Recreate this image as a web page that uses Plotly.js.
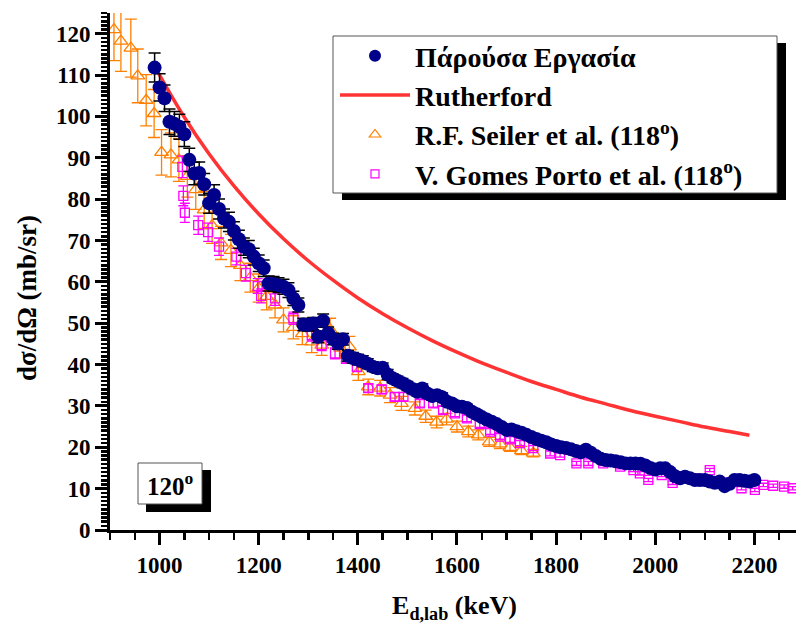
<!DOCTYPE html>
<html>
<head>
<meta charset="utf-8">
<script src="https://cdn.plot.ly/plotly-3.0.1.min.js"></script>
<style>
html,body{margin:0;padding:0;overflow:hidden;background:#fff;}
#chart{width:810px;height:627px;}
</style>
</head>
<body>
<div id="chart"></div>
<script>
// ---- Present work (Παρούσα Εργασία) ----
var presentE = [990,1000,1010,1020,1030,1040,1050,1060,1070,1080,1090,1100,1110,1120,1130,1140,1150,1160,1170,1180,1190,1200,
1210,1220,1230,1240,1250,1260,1270,1280,1290,1300,1310,1320,1330,1340,1350,1360,1370,1380,1390,1400,
1410,1420,1430,1440,1450,1460,1470,1480,1490,1500,1510,1520,1530,1540,1550,1560,1570,1580,1590,1600,
1610,1620,1630,1640,1650,1660,1670,1680,1690,1700,1710,1720,1730,1740,1750,1760,1770,1780,1790,1800,
1810,1820,1830,1840,1850,1860,1870,1880,1890,1900,1910,1920,1930,1940,1950,1960,1970,1980,1990,2000,
2010,2020,2030,2040,2050,2060,2070,2080,2090,2100,2110,2120,2130,2140,2150,2160,2170,2180,2190,2200];
var presentY = [111.8,107.0,104.4,98.7,98.2,97.5,95.7,89.5,86.2,86.3,83.6,79.0,81.0,77.6,75.3,74.5,72.3,70.3,68.5,67.9,66.1,64.5,
63.3,59.6,59.5,59.2,58.8,58.0,56.0,54.4,49.7,49.6,49.9,46.7,50.6,47.6,46.2,45.1,46.1,42.1,41.6,41.2,
40.8,40.2,39.5,39.1,39.2,37.6,36.7,36.1,35.5,34.8,34.1,33.4,34.2,33.0,32.4,32.6,32.1,31.0,30.6,29.9,
29.8,29.5,28.6,28.0,27.3,26.7,26.2,25.6,24.9,24.2,24.3,23.9,23.5,23.0,22.5,22.0,21.6,21.2,20.7,20.3,
20.0,19.8,19.5,19.1,18.8,19.4,18.7,17.9,17.2,16.9,16.8,16.6,16.4,16.1,16.1,16.1,16.0,15.6,15.0,14.6,
14.9,14.9,14.0,13.0,12.5,12.9,12.5,12.1,12.1,12.1,11.7,11.4,11.7,10.6,11.2,12.1,12.1,11.9,11.7,12.1];
var presentErr = [3.5,3.3,3.2,3.1,3.0,3.0,3.0,2.8,2.7,2.7,2.6,2.4,2.5,2.4,2.3,2.3,2.2,2.2,2.1,2.1,2.0,2.0,
2.0,1.8,1.8,1.8,1.8,1.8,1.7,1.7,1.5,1.5,1.5,1.4,1.6,1.5,1.4,1.4,1.4,1.3,1.3,1.3,
1.3,1.2,1.2,1.2,1.2,1.2,1.1,1.1,1.1,1.1,1.1,1.0,1.1,1.0,1.0,1.0,1.0,1.0,0.9,0.9,
0.9,0.9,0.9,0.9,0.8,0.8,0.8,0.8,0.8,0.8,0.8,0.7,0.7,0.7,0.7,0.7,0.7,0.7,0.6,0.6,
0.6,0.6,0.6,0.6,0.6,0.6,0.6,0.6,0.5,0.5,0.5,0.5,0.5,0.5,0.5,0.5,0.5,0.5,0.5,0.5,
0.5,0.5,0.4,0.4,0.4,0.4,0.4,0.4,0.4,0.4,0.4,0.4,0.4,0.3,0.3,0.4,0.4,0.4,0.4,0.4];

// ---- Rutherford ----
var rutherE = [990,1000,1050,1100,1150,1200,1250,1300,1350,1400,1450,1500,1550,1600,1650,1700,1750,1800,1850,1900,1950,2000,2050,2100,2150,2190];
var rutherY = [112.2,110.0,99.8,90.9,83.2,76.4,70.4,65.1,60.4,56.1,52.3,48.9,45.8,43.0,40.4,38.1,35.9,34.0,32.1,30.5,28.9,27.5,26.2,24.9,23.8,22.9];

// ---- R.F. Seiler et al. (118o) ----
var seilerE = [908,922,942,956,973,989,1004,1023,1039,1056,1073,1090,1106,1124,1144,1163,1183,1200,1216,1233,1250,1270,1288,1307,1327,1344,1365,1383,1401,1421,1445,1465,1488,1515,1537,1559,1579,1600,1623,1643,1665,1687,1707,1730,1754];
var seilerY = [121.0,118.2,116.5,109.8,103.9,100.7,91.3,90.7,89.5,85.5,82.3,77.4,73.6,69.4,67.6,64.0,61.0,58.5,56.5,54.4,50.8,49.0,47.5,45.5,44.7,48.5,44.0,44.3,38.3,34.6,34.3,32.6,30.6,29.4,27.5,26.1,26.8,25.0,23.8,23.0,21.3,20.8,20.0,19.2,18.6];
var seilerErr = [7.5,7.3,7.0,6.5,6.2,5.8,5.5,5.3,5.2,5.0,4.8,4.5,4.3,4.0,3.9,3.7,3.5,3.4,3.3,3.1,2.9,2.8,2.7,2.6,2.5,2.7,2.5,2.5,2.1,1.9,1.9,1.8,1.7,1.6,1.5,1.4,1.4,1.3,1.3,1.2,1.1,1.1,1.0,1.0,0.9];

// ---- V. Gomes Porto et al. (118o) ----
var portoE = [1046,1048,1051,1078,1098,1120,1155,1174,1198,1205,1233,1270,1307,1327,1354,1376,1398,1421,1448,1475,1492,1525,1552,1572,1596,1620,1646,1667,1687,1707,1727,1754,1788,1808,1841,1865,1895,1929,1956,1969,1986,2013,2035,2057,2080,2110,2140,2174,2201,2218,2238,2260,2277];
var portoY = [87.8,80.8,76.7,73.7,72.0,68.5,66.1,62.1,59.0,56.6,56.0,51.2,47.1,44.7,42.7,41.5,39.5,34.3,34.0,32.2,32.2,30.6,30.6,29.0,28.2,27.0,25.6,23.8,22.6,21.9,21.0,19.8,18.5,18.1,16.1,16.1,16.1,15.3,14.5,13.7,12.1,13.3,11.4,13.0,12.5,14.5,11.5,10.1,9.7,10.9,10.7,10.5,10.1];
var portoErr = [2.6,2.4,2.3,2.2,2.2,2.1,2.0,1.9,1.8,1.7,1.7,1.5,1.4,1.3,1.3,1.2,1.2,1.0,1.0,1.0,1.0,0.9,0.9,0.9,0.8,0.8,0.8,0.7,0.7,0.7,0.6,0.6,0.6,0.5,0.5,0.5,0.5,0.5,0.4,0.4,0.4,0.4,0.4,0.4,0.4,0.4,0.4,0.4,0.4,0.4,0.4,0.4,0.4];

var legendNames = ['Πάρούσα Εργασία','Rutherford','R.F. Seiler et al. (118<sup>o</sup>)','V. Gomes Porto et al. (118<sup>o</sup>)'];
var xTickVals = [1000,1200,1400,1600,1800,2000,2200];
var yTickVals = [0,10,20,30,40,50,60,70,80,90,100,110,120];

var NAVY = '#00008B', RED = '#FF3333', ORANGE = '#FF8000', MAGENTA = '#FF00FF';
var FONT = "'Liberation Serif', 'Times New Roman', Times, 'DejaVu Serif', serif";

// plot area in pixels
var L = 110, R = 799, T = 13, B = 530;
function px(x){ return (x - L) / (R - L); }
function py(y){ return (B - y) / (B - T); }

var traces = [
  {x: seilerE, y: seilerY, type: 'scatter', mode: 'markers', showlegend: false,
   marker: {symbol: 'triangle-up-open', size: 12, color: ORANGE, line: {width: 1.3, color: ORANGE}},
   error_y: {type: 'data', array: seilerErr, visible: true, color: ORANGE, thickness: 1.3, width: 6}},
  {x: portoE, y: portoY, type: 'scatter', mode: 'markers', showlegend: false,
   marker: {symbol: 'square-open', size: 9, color: MAGENTA, line: {width: 1.3, color: MAGENTA}},
   error_y: {type: 'data', array: portoErr, visible: true, color: MAGENTA, thickness: 1.3, width: 5}},
  {x: rutherE, y: rutherY, type: 'scatter', mode: 'lines', showlegend: false,
   line: {color: RED, width: 3.5, shape: 'spline'}},
  {x: presentE, y: presentY, type: 'scatter', mode: 'markers', showlegend: false,
   marker: {symbol: 'circle', size: 14, color: NAVY},
   error_y: {type: 'data', array: presentErr, visible: true, color: '#000', thickness: 1.5, width: 6}},
  // legend entries
  {x: [null], y: [null], type: 'scatter', mode: 'markers', name: legendNames[0], legendgroup: 'a',
   marker: {symbol: 'circle', size: 12, color: NAVY}},
  {x: [null], y: [null], type: 'scatter', mode: 'lines', name: legendNames[1], legendgroup: 'b',
   line: {color: RED, width: 3.5}},
  {x: [null], y: [null], type: 'scatter', mode: 'markers', name: legendNames[2], legendgroup: 'c',
   marker: {symbol: 'triangle-up-open', size: 10, color: ORANGE, line: {width: 1.2, color: ORANGE}}},
  {x: [null], y: [null], type: 'scatter', mode: 'markers', name: legendNames[3], legendgroup: 'd',
   marker: {symbol: 'square-open', size: 8, color: MAGENTA, line: {width: 1.2, color: MAGENTA}}}
];

var axisCommon = {showgrid: false, zeroline: false, showline: true, linecolor: '#000', linewidth: 3,
  tickcolor: '#000', automargin: false};

var layout = {
  width: 810, height: 627,
  margin: {l: L, r: 810 - R, t: T, b: 627 - B},
  paper_bgcolor: '#fff', plot_bgcolor: '#fff',
  font: {family: FONT, color: '#000'},
  showlegend: true,
  legend: {x: px(335), y: py(31), xanchor: 'left', yanchor: 'top',
    bgcolor: 'rgba(0,0,0,0)', borderwidth: 0, itemwidth: 70, tracegroupgap: 0,
    font: {family: FONT, size: 28, weight: 'bold', color: '#000'}},
  xaxis: Object.assign({}, axisCommon, {
    range: [900, 2290], tickmode: 'array', tickvals: xTickVals, ticks: 'outside', ticklen: 12, tickwidth: 3,
    tickfont: {family: FONT, size: 23, weight: 'bold'},
    minor: {dtick: 50, tick0: 0, ticks: 'outside', ticklen: 7, tickwidth: 2.5, tickcolor: '#000'},
    title: {text: 'E<sub>d,lab</sub> (keV)', font: {family: FONT, size: 26, weight: 'bold'}, standoff: 20}
  }),
  yaxis: Object.assign({}, axisCommon, {
    range: [0, 125], tickmode: 'array', tickvals: yTickVals, ticks: 'outside', ticklen: 12, tickwidth: 3,
    tickfont: {family: FONT, size: 23, weight: 'bold'},
    minor: {dtick: 1, tick0: 0, ticks: 'outside', ticklen: 6, tickwidth: 2.5, tickcolor: '#000'}
  }),
  xaxis2: Object.assign({}, axisCommon, {
    overlaying: 'x', side: 'top', anchor: 'y', range: [900, 2290], tickmode: 'array', tickvals: xTickVals,
    ticks: 'inside', ticklen: 10, tickwidth: 3, showticklabels: false,
    minor: {dtick: 50, tick0: 0, ticks: 'inside', ticklen: 5, tickwidth: 2.5, tickcolor: '#000'}
  }),
  yaxis2: Object.assign({}, axisCommon, {
    overlaying: 'y', side: 'right', anchor: 'x', range: [0, 125], tickmode: 'array', tickvals: yTickVals,
    ticks: 'inside', ticklen: 10, tickwidth: 3, showticklabels: false,
    minor: {dtick: 1, tick0: 0, ticks: 'inside', ticklen: 5, tickwidth: 2.5, tickcolor: '#000'}
  }),
  shapes: [
    {type: 'rect', xref: 'paper', yref: 'paper', layer: 'above', x0: px(342), x1: px(786), y0: py(200), y1: py(43),
     fillcolor: '#000', line: {width: 0}},
    {type: 'rect', xref: 'paper', yref: 'paper', layer: 'above', x0: px(333), x1: px(777), y0: py(193), y1: py(36),
     fillcolor: '#fff', line: {width: 1, color: '#555'}},
    {type: 'rect', xref: 'paper', yref: 'paper', layer: 'above', x0: px(146), x1: px(211), y0: py(512), y1: py(470),
     fillcolor: '#000', line: {width: 0}},
    {type: 'rect', xref: 'paper', yref: 'paper', layer: 'above', x0: px(138), x1: px(202), y0: py(504), y1: py(463),
     fillcolor: '#fff', line: {width: 1, color: '#555'}}
  ],
  annotations: [
    {xref: 'paper', yref: 'paper', x: px(170), y: py(484), xanchor: 'center', yanchor: 'middle', showarrow: false,
     text: '120<sup>o</sup>', font: {family: FONT, size: 25, weight: 'bold', color: '#000'}},
    {xref: 'paper', yref: 'paper', x: px(27), y: py(298), xanchor: 'center', yanchor: 'middle', showarrow: false,
     textangle: -90, text: 'dσ/dΩ (mb/sr)', font: {family: FONT, size: 27, weight: 'bold', color: '#000'}}
  ]
};

Plotly.newPlot('chart', traces, layout, {displayModeBar: false, staticPlot: true});
</script>
</body>
</html>
